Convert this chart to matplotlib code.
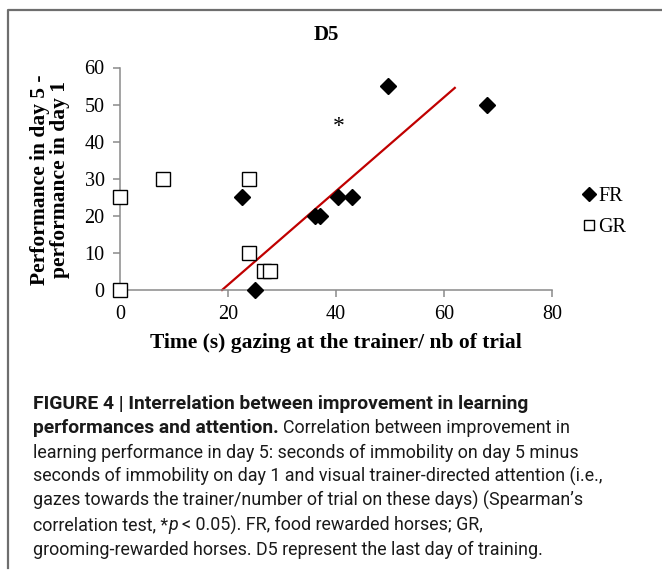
import matplotlib
matplotlib.use('Agg')
import matplotlib.pyplot as plt
from matplotlib import font_manager
from matplotlib.lines import Line2D

# ---------------- data ----------------
fr_x = [22.5, 25.0, 36.2, 37.1, 40.3, 42.9, 49.7, 68.0]
fr_y = [25, 0, 20, 20, 25, 25, 55, 50]
gr_x = [0.0, 0.0, 8.0, 23.9, 23.9, 26.6, 27.8]
gr_y = [25, 0, 30, 30, 10, 5, 5]
trend_x = [18.9, 62.0]
trend_y = [0.0, 54.5]
x_ticks = [0, 20, 40, 60, 80]
y_ticks = [0, 10, 20, 30, 40, 50, 60]
series_labels = ["FR", "GR"]
title = "D5"
xlabel = "Time (s) gazing at the trainer/ nb of trial"
ylabel = "Performance in day 5 -\nperformance in day 1"

W, H = 662, 577
fig = plt.figure(figsize=(W / 100, H / 100), dpi=100)


def fx(px):
    return px / W


def fy(py):
    return 1 - py / H


def pick(cands):
    for c in cands:
        try:
            font_manager.findfont(c, fallback_to_default=False)
            return c
        except Exception:
            pass
    return 'DejaVu Sans'


serif = pick(['Liberation Serif', 'DejaVu Serif'])
cap_font = pick(['Roboto', 'Liberation Sans'])

grey = '#8a8a8a'

# outer frame
fig.add_artist(Line2D([fx(8), fx(8), fx(662)], [fy(568), fy(10), fy(10)],
                      transform=fig.transFigure, color='#6e6e6e', lw=1.6))

ax = fig.add_axes([fx(120), fy(290), fx(552) - fx(120), fy(67.5) - fy(290)])
ax.set_xlim(0, 80)
ax.set_ylim(0, 60)
for s in ['top', 'right']:
    ax.spines[s].set_visible(False)
for s in ['left', 'bottom']:
    ax.spines[s].set_color(grey)
    ax.spines[s].set_linewidth(1.1)
ax.set_xticks(x_ticks)
ax.set_yticks(y_ticks)
ax.tick_params(direction='out', length=5, width=1.1, color=grey, pad=6,
               labelsize=14.5)
for lab in ax.get_xticklabels() + ax.get_yticklabels():
    lab.set_fontfamily(serif)

ax.plot(trend_x, trend_y, color='#c00000', lw=1.6, zorder=2, clip_on=False)
h1, = ax.plot(fr_x, fr_y, linestyle='none', marker='D', markersize=8.5,
              color='black', label=series_labels[0], clip_on=False, zorder=3)
h2, = ax.plot(gr_x, gr_y, linestyle='none', marker='s', markersize=9.5,
              markerfacecolor='white', markeredgecolor='black', markeredgewidth=1.0,
              label=series_labels[1], clip_on=False, zorder=3)
ax.text(40.5, 44, '*', fontsize=17, family=serif, ha='center', va='center')

leg = fig.legend(handles=[h1, h2], loc='center left',
                 bbox_to_anchor=(fx(583), fy(212)), frameon=False,
                 prop={'family': serif, 'size': 14.5}, handlelength=0.6,
                 handletextpad=0.15, labelspacing=0.6, markerscale=0.8,
                 borderaxespad=0, borderpad=0)

fig.text(fx(326), fy(35), title, fontsize=15, fontweight='bold', family=serif,
         ha='center', va='center')
fig.text(fx(336), fy(343), xlabel, fontsize=15.5, fontweight='bold', family=serif,
         ha='center', va='center')
fig.text(fx(50), fy(180), ylabel, fontsize=15.5, fontweight='bold', family=serif,
         ha='center', va='center', rotation=90, multialignment='center',
         linespacing=1.0)

# ---------------- caption ----------------
caption = [
    [("FIGURE 4 | Interrelation between improvement in learning", 'bold', 'normal')],
    [("performances and attention.", 'bold', 'normal'),
     ("Correlation between improvement in", 'normal', 'normal')],
    [("learning performance in day 5: seconds of immobility on day 5 minus", 'normal', 'normal')],
    [("seconds of immobility on day 1 and visual trainer-directed attention (i.e.,", 'normal', 'normal')],
    [("gazes towards the trainer/number of trial on these days) (Spearman\u2019s", 'normal', 'normal')],
    [("correlation test, *", 'normal', 'normal'), ("p", 'normal', 'italic'),
     ("< 0.05). FR, food rewarded horses; GR,", 'normal', 'normal')],
    [("grooming-rewarded horses. D5 represent the last day of training.", 'normal', 'normal')],
]
fig.canvas.draw()
r = fig.canvas.get_renderer()


def width_px(s, w, st, size):
    t = fig.text(0, 0, s, fontsize=size, fontweight=w, fontstyle=st, family=cap_font)
    bb = t.get_window_extent(renderer=r)
    t.remove()
    return bb.width


x_start = 33.0
base = 12.0
# fit regular text size to the line extents seen in the figure
fit_lines = {2: 567, 3: 612, 4: 593, 6: 528}
tw = sum(e - x_start for e in fit_lines.values())
mw = sum(width_px(caption[i][0][0], 'normal', 'normal', base) for i in fit_lines)
cap_size = base * tw / mw
bold_size = base * (538 - x_start) / width_px(caption[0][0][0], 'bold', 'normal', base)
bold_size = min(bold_size, cap_size * 1.08)
space_w = (width_px("a a", 'normal', 'normal', cap_size)
           - width_px("aa", 'normal', 'normal', cap_size))

y0, dy = 409, 24.3
for i, segs in enumerate(caption):
    x = x_start
    for j, (s, w, st) in enumerate(segs):
        size = bold_size if w == 'bold' else cap_size
        fig.text(fx(x), fy(y0 + i * dy), s, fontsize=size, fontweight=w,
                 fontstyle=st, family=cap_font, va='baseline', ha='left',
                 color='#1a1a1a')
        x += width_px(s, w, st, size)
        if not s.endswith('*'):
            x += space_w

fig.savefig('out.png', dpi=100)
